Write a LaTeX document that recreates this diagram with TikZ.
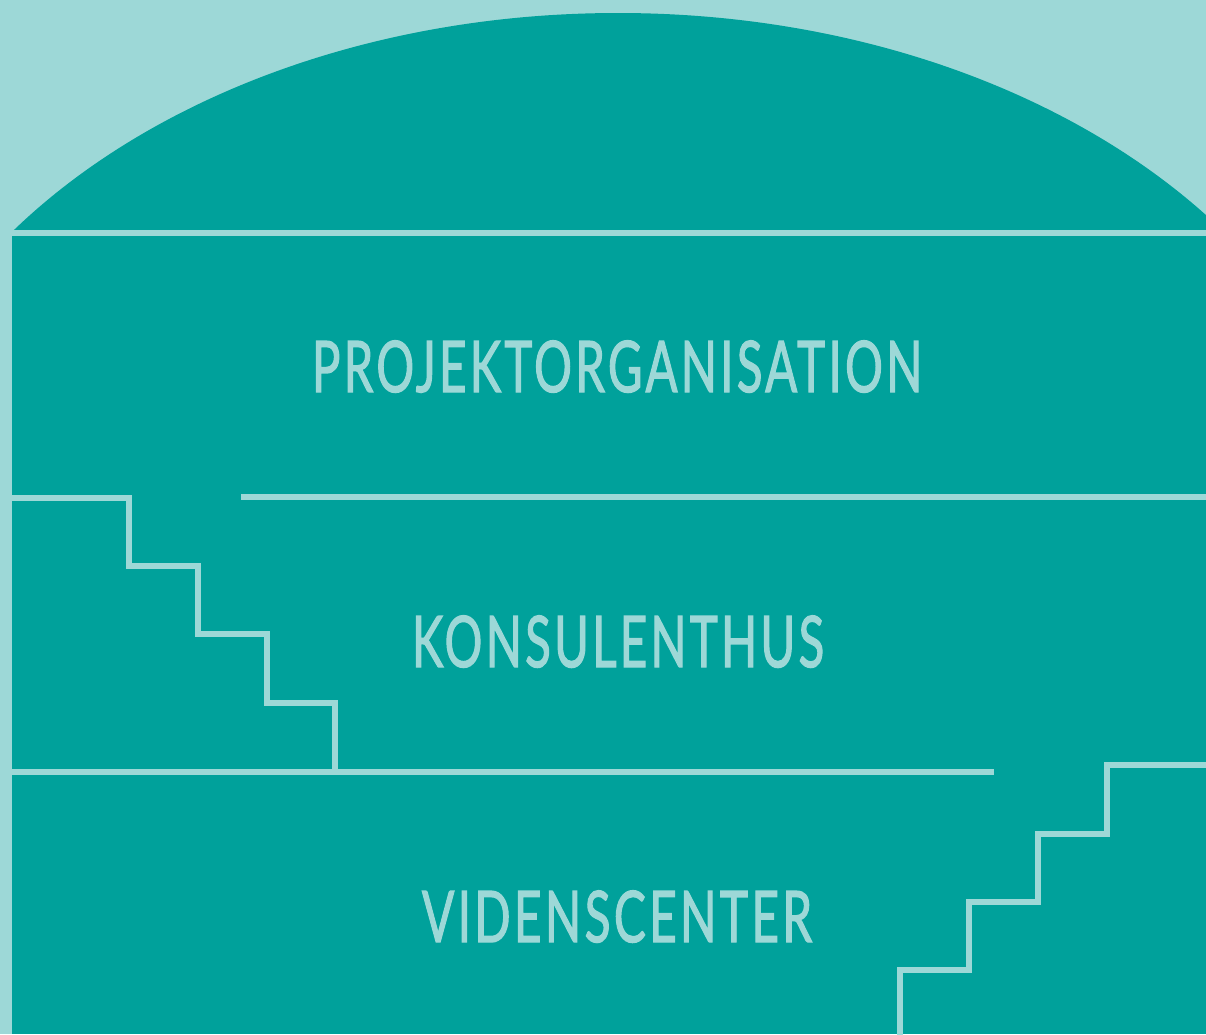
\documentclass[tikz,border=0pt]{standalone}
\usepackage{fontspec}
\setmainfont{Lato}[LetterSpace=7, FakeBold=2]
\usepackage{graphicx}
\definecolor{tealdark}{RGB}{0,161,155}
\definecolor{teallight}{RGB}{157,216,215}
\tikzset{
  rule/.style={draw=teallight, line width=6pt, line cap=butt, line join=miter},
  tier/.style={text=teallight, inner sep=0pt, anchor=base, font=\fontsize{71}{80}\selectfont}
}
\begin{document}
\begin{tikzpicture}[x=1pt,y=-1pt]
\useasboundingbox (0,0) rectangle (1206,1034);
\fill[teallight] (0,0) rectangle (1206,1034);
% dome
\begin{scope}
  \clip (12,0) rectangle (1206,229);
  \fill[tealdark] (618,546) ellipse [x radius=750pt, y radius=533pt];
\end{scope}
% body
\fill[tealdark] (12,236) rectangle (1206,1034);
% left stair (down)
\draw[rule] (0,498) -- (129,498) -- (129,566) -- (198,566) -- (198,634)
  -- (267,634) -- (267,703) -- (335,703) -- (335,772);
% upper divider
\draw[rule] (241,497) -- (1206,497);
% lower divider
\draw[rule] (0,772) -- (994,772);
% right stair (up)
\draw[rule] (1206,765) -- (1107,765) -- (1107,833.5) -- (1038,833.5) -- (1038,901.5)
  -- (969,901.5) -- (969,970) -- (900,970) -- (900,1040);
% labels
\node[tier] (proj) at (617,392) {\resizebox{610pt}{\height}{PROJEKTORGANISATION}};
\node[tier] (kons) at (618,667) {\resizebox{412pt}{\height}{KONSULENTHUS}};
\node[tier] (vid) at (617,942) {\resizebox{390pt}{\height}{VIDENSCENTER}};
\end{tikzpicture}
\end{document}
